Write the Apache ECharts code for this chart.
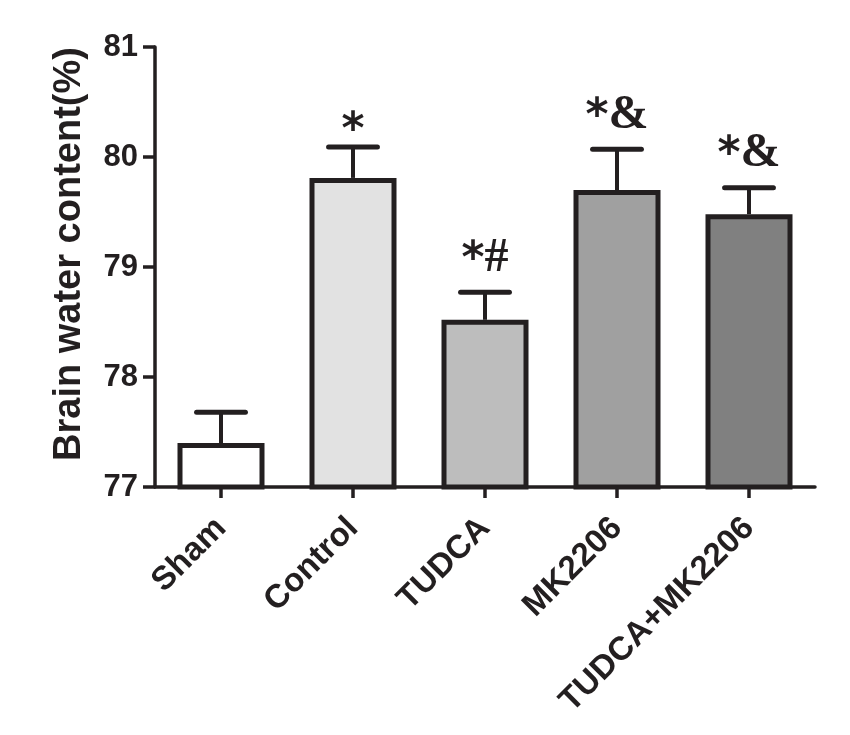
<!DOCTYPE html>
<html>
<head>
<meta charset="utf-8">
<script src="https://cdn.jsdelivr.net/npm/echarts@6/dist/echarts.min.js"></script>
<style>
html,body{margin:0;padding:0;background:#fff;}
#chart{width:850px;height:735px;}
</style>
</head>
<body>
<div id="chart"></div>
<script>
const categories = ['Sham', 'Control', 'TUDCA', 'MK2206', 'TUDCA+MK2206'];
const meanValues = [77.40, 79.81, 78.52, 79.70, 79.48];
const errorValues = [0.28, 0.28, 0.25, 0.37, 0.24];
const starMarks = ['*', '*', '*', '*', '*'];
const extraMarks = ['', '', '#', '&', '&'];
const showMarks = [false, true, true, true, true];
const yTicks = [77, 78, 79, 80, 81];
const barColors = ['#ffffff', '#e2e2e2', '#bdbdbd', '#a0a0a0', '#808080'];

const ink = '#231f20';
const chart = echarts.init(document.getElementById('chart'), null, {renderer: 'canvas'});

const option = {
  backgroundColor: '#ffffff',
  animation: false,
  grid: {left: 155, right: 35, top: 47, bottom: 248, containLabel: false},
  xAxis: {
    type: 'category',
    data: categories,
    axisLine: {lineStyle: {color: ink, width: 3.5}},
    axisTick: {show: true, alignWithLabel: true, length: 11, inside: false, lineStyle: {color: ink, width: 3.5}},
    axisLabel: {
      rotate: 45, margin: 36, interval: 0,
      fontFamily: 'Liberation Sans, Arial, sans-serif', fontWeight: 'bold', fontSize: 33, color: ink
    },
    splitLine: {show: false}
  },
  yAxis: {
    type: 'value',
    min: yTicks[0], max: yTicks[yTicks.length - 1], interval: 1,
    name: 'Brain water content(%)',
    nameLocation: 'middle',
    nameRotate: 90,
    nameGap: 66,
    nameTextStyle: {
      fontFamily: 'Liberation Sans, Arial, sans-serif', fontWeight: 'bold', fontSize: 38, color: ink,
      padding: [0, 0, 0, 26]
    },
    axisLine: {show: true, lineStyle: {color: ink, width: 3.5}},
    axisTick: {show: true, length: 12, lineStyle: {color: ink, width: 3.5}},
    axisLabel: {
      margin: 17, fontFamily: 'Liberation Sans, Arial, sans-serif', fontWeight: 'bold', fontSize: 31, color: ink
    },
    splitLine: {show: false}
  },
  series: [
    {
      type: 'bar',
      barWidth: 87,
      data: meanValues.map((v, i) => ({
        value: v,
        itemStyle: {color: barColors[i], borderColor: ink, borderWidth: 5}
      })),
      z: 2
    },
    {
      type: 'custom',
      z: 3,
      data: meanValues.map((v, i) => [i, v, errorValues[i]]),
      renderItem: function (params, api) {
        const i = api.value(0), v = api.value(1), e = api.value(2);
        const base = api.coord([i, v]);
        const top = api.coord([i, v + e]);
        const bandW = api.size([1, 0])[0];
        const capHalf = bandW * 0.185;
        const children = [
          {type: 'line', shape: {x1: base[0], y1: base[1], x2: top[0], y2: top[1]},
            style: {stroke: ink, lineWidth: 4}},
          {type: 'line', shape: {x1: top[0] - capHalf, y1: top[1], x2: top[0] + capHalf, y2: top[1]},
            style: {stroke: ink, lineWidth: 5, lineCap: 'round'}}
        ];
        if (showMarks[i]) {
          const extra = extraMarks[i];
          children.push({
            type: 'text',
            x: top[0] + (extra ? 0 : 0),
            y: top[1] - (extra ? 10 : -6),
            style: {
              text: '{s|' + starMarks[i] + '}' + (extra ? '{t|' + extra + '}' : ''),
              align: 'center',
              verticalAlign: 'bottom',
              rich: {
                s: {fontFamily: 'DejaVu Sans', fontWeight: 'bold', fontSize: 44, fill: ink, verticalAlign: 'bottom', lineHeight: 46},
                t: {fontFamily: 'Liberation Serif, Times New Roman, serif', fontWeight: 'bold', fontSize: 48, fill: ink, verticalAlign: 'bottom', lineHeight: 46}
              }
            }
          });
        }
        return {type: 'group', children: children};
      }
    }
  ]
};
chart.setOption(option);
</script>
</body>
</html>
